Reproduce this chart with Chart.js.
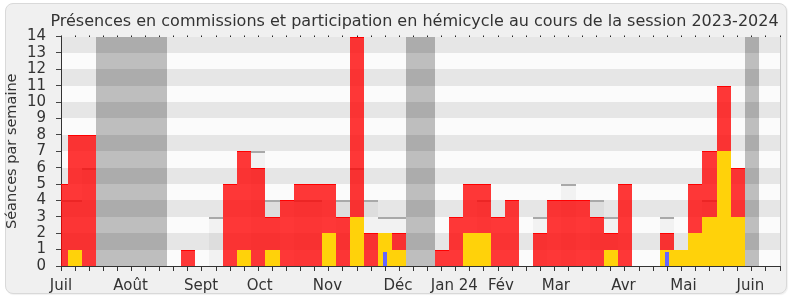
<!DOCTYPE html>
<html lang="fr">
<head>
<meta charset="UTF-8">
<title>Présences en commissions et participation en hémicycle</title>
<script src="https://cdn.jsdelivr.net/npm/chart.js"></script>
<style>
  body { margin: 0; background: #fff; }
  #wrap { position: relative; width: 790px; height: 300px; }
  #panel { position: absolute; left: 5px; top: 3px; width: 780px; height: 289px;
           background: #f0f0f0; border: 1px solid #d9d9d9; border-radius: 8px;
           box-shadow: 1px 1px 1px rgba(0,0,0,0.06); }
  canvas { position: absolute; left: 0; top: 0; }
</style>
</head>
<body>
<div id="wrap">
  <div id="panel"></div>
  <canvas id="chart" width="790" height="300"></canvas>
</div>
<script>
const titre = 'Présences en commissions et participation en hémicycle au cours de la session 2023-2024';
const police = 'DejaVu Sans';

// une case par semaine, de juillet 2023 à juin 2024
const semaines = [0,1,2,3,4,5,6,7,8,9,10,11,12,13,14,15,16,17,18,19,20,21,22,23,24,25,
                  26,27,28,29,30,31,32,33,34,35,36,37,38,39,40,41,42,43,44,45,46,47,48,49,50,51];
const moisLabels = ['Juil','Août','Sept','Oct','Nov','Déc','Jan 24','Fév','Mar','Avr','Mai','Juin'];
const moisPos = [0, 4.94, 9.94, 14.1, 18.9, 23.9, 27.9, 31.2, 35.1, 39.9, 44.15, 48.9];
const vacances = [3,4,5,6,7,25,26,49];

const presences = [5,8,8,null,null,null,null,null,null,1,null,null,5,7,6,3,4,5,5,5,3,14,2,2,2,null,
                   null,1,3,5,5,3,4,null,2,4,4,4,3,2,5,null,null,2,1,5,7,11,6,null,null,null];
const participation = [null,1,null,null,null,null,null,null,null,null,null,null,null,1,null,1,null,null,null,2,null,3,null,2,1,null,
                       null,null,null,2,2,null,null,null,null,null,null,null,null,1,null,null,null,1,1,2,3,7,3,null,null,null];
const questions = [null,null,null,null,null,null,null,null,null,null,null,null,null,null,null,null,null,null,null,null,null,null,null,0.85,null,null,
                   null,null,null,null,null,null,null,null,null,null,null,null,null,null,null,null,null,0.85,null,null,null,null,null,null,null,null];
const mediane = [4,4,6,null,null,null,null,null,null,null,null,3,null,null,7,4,null,4,4,null,4,6,4,3,3,null,
                 null,null,null,null,4,null,null,null,3,null,5,null,4,3,null,null,null,3,null,null,4,null,null,null,null,null];

const fond = {
  id: 'fond',
  beforeDraw(chart) {
    const {ctx, chartArea: a, scales: {x, y}} = chart;
    ctx.save();
    for (let v = 0; v < 14; v++) {
      const haut = Math.round(y.getPixelForValue(v + 1)), bas = Math.round(y.getPixelForValue(v));
      ctx.fillStyle = v % 2 ? '#e6e6e6' : '#fbfbfb';
      ctx.fillRect(a.left, haut, a.right - a.left, bas - haut);
      ctx.fillStyle = v % 2 ? '#acacac' : '#bebebe';
      vacances.forEach(w => {
        const g = Math.round(Math.max(a.left, x.getPixelForValue(w - 0.5)));
        const d = Math.round(Math.min(a.right, x.getPixelForValue(w + 0.5)));
        ctx.fillRect(g, haut, d - g, bas - haut);
      });
    }
    ctx.strokeStyle = '#c8c8c8';
    ctx.beginPath();
    ctx.moveTo(a.right + 0.5, a.top);
    ctx.lineTo(a.right + 0.5, a.bottom);
    ctx.stroke();

    ctx.fillStyle = '#333';
    ctx.font = '16px "' + police + '"';
    ctx.textAlign = 'center';
    ctx.textBaseline = 'alphabetic';
    ctx.fillText(titre, 414.5, 26);
    ctx.restore();
  },
  // cale les barres sur les pixels pour éviter les liserés entre semaines
  beforeDatasetsDraw(chart) {
    chart.getSortedVisibleDatasetMetas().forEach(meta => {
      meta.data.forEach(el => {
        if (el.skip) return;
        const g = Math.round(el.x - el.width / 2), d = Math.round(el.x + el.width / 2);
        el.x = (g + d) / 2;
        el.width = d - g;
        el.y = Math.round(el.y);
        el.base = Math.round(el.base);
      });
    });
  }
};

const barre = { barPercentage: 1, categoryPercentage: 1, grouped: false, clip: 0, inflateAmount: 0 };

new Chart(document.getElementById('chart'), {
  type: 'bar',
  data: {
    labels: semaines,
    datasets: [
      Object.assign({ label: 'Questions', data: questions, backgroundColor: '#6464ff', order: 0 }, barre, { barPercentage: 0.3 }),
      Object.assign({ label: 'Participation', data: participation, backgroundColor: '#ffd20a', order: 1 }, barre),
      Object.assign({ label: 'Présences', data: presences, backgroundColor: 'rgba(255,0,0,0.78)',
        borderColor: '#ff0000', borderWidth: { top: 1, left: 0, right: 0, bottom: 0 }, order: 2 }, barre),
      Object.assign({ label: 'Médiane', data: mediane, backgroundColor: 'rgba(0,0,0,0.035)',
        borderColor: '#a9a9a9', borderWidth: { top: 2, left: 0, right: 0, bottom: 0 }, order: 3 }, barre)
    ]
  },
  options: {
    responsive: false,
    animation: false,
    layout: { padding: { top: 30, right: 10, left: 0, bottom: 0 } },
    plugins: { legend: { display: false }, tooltip: { enabled: false }, title: { display: false } },
    scales: {
      x: {
        type: 'linear', position: 'bottom', min: 0, max: 51, offset: false, weight: 0,
        grid: { drawOnChartArea: false, offset: false, tickLength: 5, color: '#333' },
        border: { color: '#333' },
        ticks: { display: false, stepSize: 1, autoSkip: false },
        afterFit(s) { s.height = 0; }
      },
      xm: {
        type: 'linear', position: 'bottom', min: 0, max: 51, offset: false, weight: 1,
        grid: { display: false },
        border: { display: false },
        ticks: {
          autoSkip: false, maxRotation: 0, padding: 3, color: '#333',
          font: { family: police, size: 15 },
          callback: (v, i) => moisLabels[i]
        },
        afterBuildTicks(s) { s.ticks = moisPos.map(v => ({ value: v })); },
        afterFit(s) { s.height = 34; }
      },
      x2: {
        type: 'linear', position: 'top', min: 0, max: 51, offset: false,
        grid: { drawOnChartArea: false, offset: false, tickLength: 1, color: '#222' },
        border: { display: false },
        ticks: { display: false, stepSize: 1 },
        afterFit(s) { s.height = 6.5; }
      },
      y: {
        min: 0, max: 14,
        grid: { drawOnChartArea: false, tickLength: 5, color: '#444' },
        border: { color: '#333' },
        ticks: { stepSize: 1, autoSkip: false, padding: 10, color: '#333', font: { family: police, size: 15 } },
        title: { display: true, text: 'Séances par semaine', color: '#333',
                 font: { family: police, size: 14.5 }, padding: { top: 4, bottom: 0 } },
        afterFit(s) { s.width = 61; }
      }
    }
  },
  plugins: [fond]
});
</script>
</body>
</html>
